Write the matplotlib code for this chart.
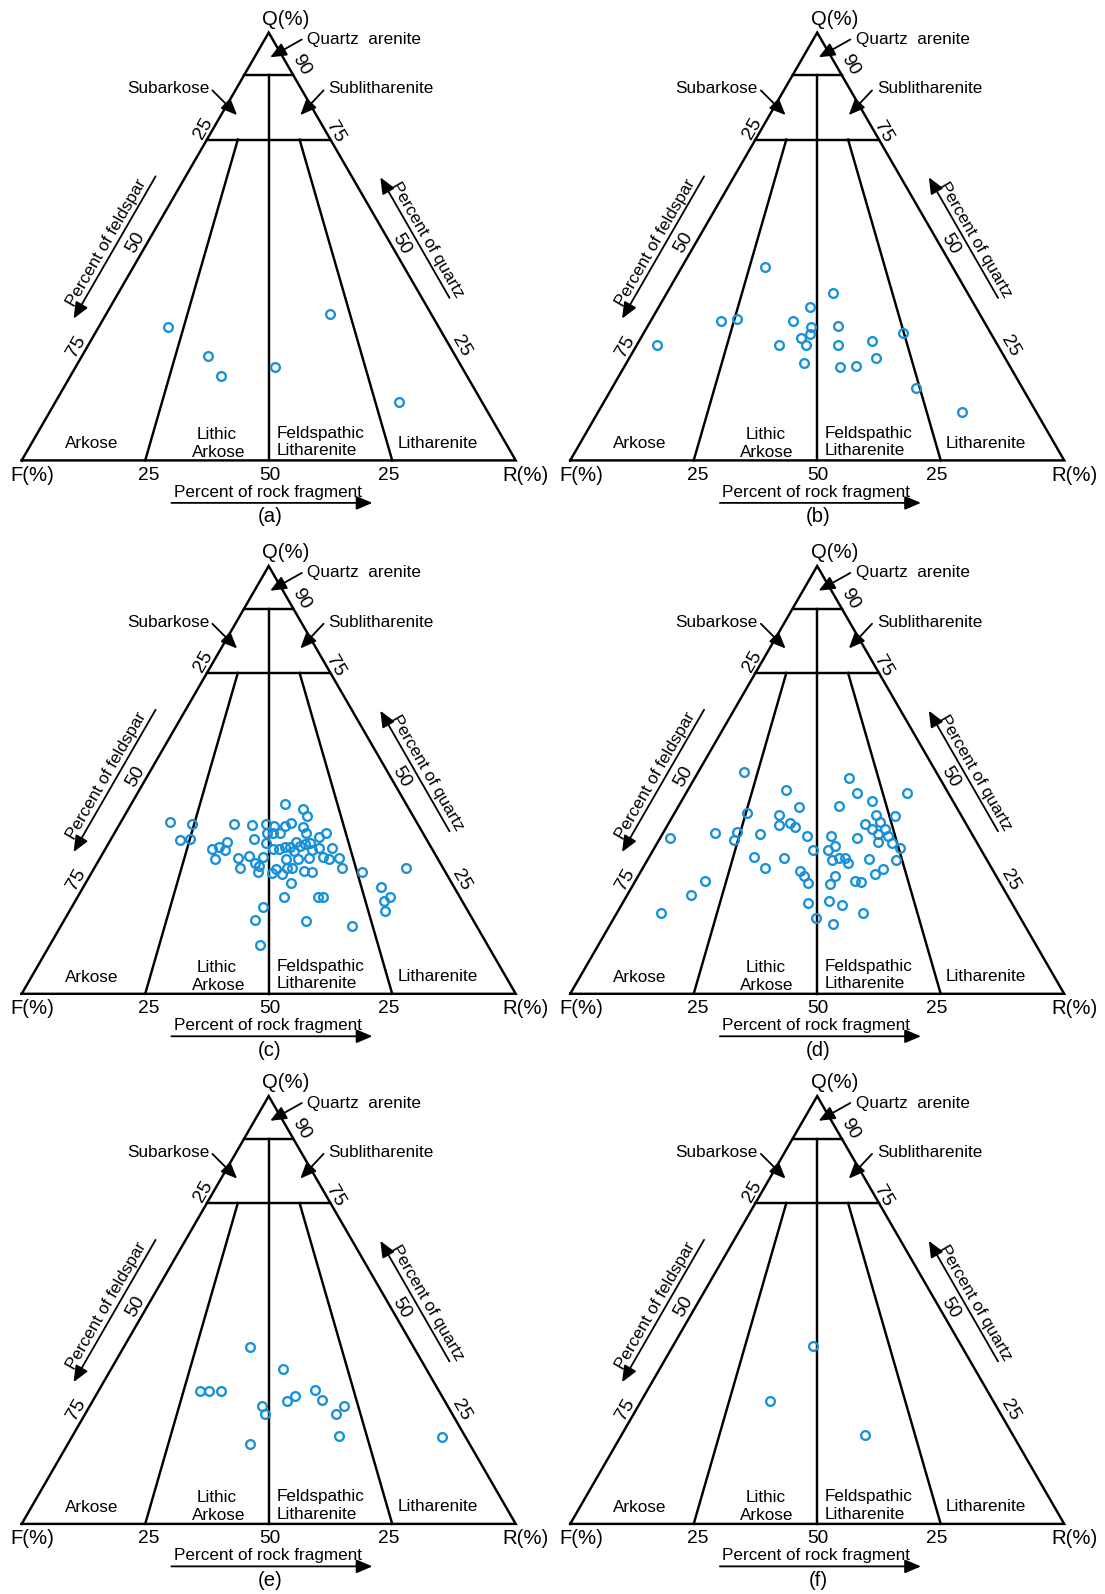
import numpy as np
import matplotlib
matplotlib.use("Agg")
import matplotlib.pyplot as plt

plt.rcParams['font.family'] = ['Liberation Sans', 'DejaVu Sans']

# ---------------------------------------------------------------
# Sandstone compositions (Q = quartz, F = feldspar, R = rock fragment, %)
# ---------------------------------------------------------------
a_Q = [31.1, 24.4, 19.7, 21.9, 34.3, 13.6]
a_F = [54.9, 50.0, 49.8, 37.9, 20.4, 16.9]
a_R = [14.0, 25.6, 30.5, 40.3, 45.4, 69.5]

b_Q = [45.2, 39.1, 35.9, 32.5, 33.1, 32.7, 31.1, 29.4, 28.6, 26.9, 27.0,
       26.9, 31.5, 27.1, 27.8, 29.7, 24.0, 22.8, 21.8, 22.1, 16.8, 11.2]
b_F = [37.9, 27.3, 33.5, 53.3, 49.7, 38.5, 35.8, 36.7, 38.9, 38.8, 44.2,
       69.1, 30.1, 32.2, 25.0, 17.8, 26.2, 41.2, 34.5, 31.0, 21.6, 15.1]
b_R = [16.8, 33.6, 30.6, 14.2, 17.2, 28.8, 33.2, 33.8, 32.5, 34.3, 28.8,
       4.1, 38.4, 40.8, 47.2, 52.6, 49.9, 36.0, 43.7, 46.9, 61.5, 73.7]

c_Q = [44.3, 43.2, 41.5, 40.2, 39.7, 39.7, 39.5, 39.8, 39.3, 39.3, 40.0,
       39.0, 37.5, 37.5, 37.6, 37.5, 36.0, 36.1, 36.2, 36.7, 37.6, 35.4,
       33.9, 34.3, 33.5, 31.4, 35.2, 33.8, 33.9, 34.2, 34.3, 35.4, 33.4,
       34.5, 34.9, 35.2, 33.5, 34.1, 34.1, 31.8, 32.3, 31.9, 30.5, 29.9,
       29.3, 28.4, 31.6, 31.5, 31.7, 31.9, 31.4, 31.7, 29.3, 29.1, 28.3,
       27.9, 29.5, 29.3, 28.6, 28.4, 28.4, 29.3, 26.0, 24.9, 22.7, 21.8,
       19.4, 22.7, 22.6, 22.6, 20.4, 17.2, 17.0, 15.8, 11.4]
c_F = [24.5, 21.4, 21.4, 49.8, 45.6, 37.2, 33.6, 30.6, 29.2, 27.0, 25.4,
       23.6, 23.7, 31.6, 30.4, 28.9, 50.0, 47.9, 34.9, 21.5, 19.5, 40.7,
       44.5, 42.9, 42.0, 45.1, 32.9, 32.3, 31.0, 29.5, 28.5, 26.7, 28.2,
       26.5, 25.3, 24.1, 24.5, 22.8, 20.1, 40.3, 37.8, 35.3, 37.6, 37.1,
       41.2, 38.0, 30.6, 28.3, 26.0, 23.0, 22.0, 19.9, 20.5, 33.9, 35.1,
       33.3, 31.5, 30.6, 28.6, 27.0, 17.0, 7.6, 32.4, 14.9, 14.0, 15.8,
       16.7, 35.6, 28.7, 27.7, 40.9, 44.1, 34.0, 25.3, 46.1]
c_R = [31.2, 35.5, 37.1, 10.0, 14.7, 23.0, 26.9, 29.6, 31.5, 33.7, 34.6,
       37.4, 38.8, 30.9, 32.0, 33.6, 14.0, 16.0, 28.9, 41.8, 42.9, 23.9,
       21.6, 22.8, 24.5, 23.5, 31.9, 33.9, 35.1, 36.3, 37.2, 37.9, 38.4,
       39.0, 39.8, 40.7, 42.0, 43.1, 45.8, 27.9, 29.9, 32.8, 31.9, 33.0,
       29.5, 33.6, 37.8, 40.2, 42.3, 45.1, 46.6, 48.4, 50.2, 37.0, 36.6,
       38.8, 39.0, 40.1, 42.8, 44.6, 54.6, 63.1, 41.6, 60.2, 63.3, 62.4,
       63.9, 41.7, 48.7, 49.7, 38.7, 38.7, 49.0, 58.9, 42.5]

d_Q = [51.8, 50.4, 47.7, 46.9, 46.9, 45.0, 43.7, 44.0, 42.3, 41.8, 41.9,
       41.5, 39.5, 40.0, 39.1, 39.7, 38.5, 40.1, 38.4, 37.4, 36.9, 36.5,
       37.6, 37.8, 36.0, 37.3, 36.8, 36.8, 36.4, 35.3, 34.1, 35.4, 34.6,
       33.7, 33.5, 31.2, 31.8, 31.7, 30.5, 31.6, 31.4, 29.3, 28.1, 31.9,
       29.5, 31.7, 28.6, 27.5, 25.8, 27.6, 25.7, 26.4, 26.1, 26.4, 23.1,
       18.9, 21.2, 21.6, 20.8, 18.8, 17.7, 16.4]
d_F = [38.9, 18.4, 32.5, 18.5, 8.4, 16.4, 31.8, 23.5, 43.1, 36.7, 17.2,
       13.6, 37.9, 35.6, 34.9, 20.4, 19.6, 17.3, 17.0, 19.0, 17.2, 61.6,
       51.8, 47.4, 48.8, 42.9, 33.7, 28.8, 23.8, 17.2, 16.1, 20.0, 29.0,
       31.0, 34.1, 31.5, 29.6, 28.6, 28.6, 23.8, 18.4, 22.0, 24.2, 46.8,
       45.9, 40.8, 39.1, 38.8, 39.0, 32.6, 34.5, 29.1, 28.2, 59.5, 63.9,
       72.2, 41.3, 36.8, 34.5, 31.3, 41.4, 38.6]
d_R = [9.3, 31.3, 19.8, 34.6, 44.7, 38.6, 24.5, 32.5, 14.6, 21.4, 40.9,
       44.9, 22.6, 24.4, 26.0, 39.9, 41.9, 42.5, 44.5, 43.6, 46.0, 2.0,
       10.6, 14.8, 15.2, 19.8, 29.5, 34.4, 39.8, 47.4, 49.7, 44.6, 36.4,
       35.3, 32.3, 37.3, 38.6, 39.8, 40.9, 44.7, 50.3, 48.8, 47.8, 21.3,
       24.6, 27.4, 32.3, 33.6, 35.2, 39.8, 39.8, 44.5, 45.8, 14.1, 13.0,
       8.9, 37.5, 41.7, 44.7, 50.0, 40.9, 44.9]

e_Q = [41.4, 36.2, 31.0, 31.0, 31.0, 30.0, 28.8, 31.2, 28.9, 27.5, 25.7,
       27.6, 25.8, 20.6, 18.6, 20.4]
e_F = [33.0, 29.1, 48.5, 46.5, 44.1, 29.7, 31.9, 25.0, 24.8, 37.6, 37.9,
       21.0, 23.4, 25.5, 44.4, 4.8]
e_R = [25.6, 34.7, 20.5, 22.5, 24.9, 40.4, 39.3, 43.8, 46.3, 34.9, 36.4,
       51.4, 50.8, 53.9, 37.0, 74.8]

f_Q = [41.5, 28.8, 20.7]
f_F = [30.2, 45.1, 30.0]
f_R = [28.3, 26.1, 49.3]

panels = [
    ('(a)', a_Q, a_F, a_R),
    ('(b)', b_Q, b_F, b_R),
    ('(c)', c_Q, c_F, c_R),
    ('(d)', d_Q, d_F, d_R),
    ('(e)', e_Q, e_F, e_R),
    ('(f)', f_Q, f_F, f_R),
]

# Classification boundaries (Folk): quartz limits and F:R ratio lines
Q_LIMITS = [90, 75]
FR_SPLITS = [0.25, 0.5, 0.75]          # R / (F + R)

S3 = np.sqrt(3) / 2
POINT_COLOR = '#1790d8'


def tern_xy(Q, F, R):
    Q, F, R = (np.asarray(v, float) for v in (Q, F, R))
    tot = Q + F + R
    q, r = Q / tot, R / tot
    return r + q / 2, q * S3


def arrow(ax, tail, head, lw=1.3, scale=13):
    ax.annotate('', xy=head, xytext=tail,
                arrowprops=dict(arrowstyle='-|>,head_length=0.75,head_width=0.32',
                                mutation_scale=scale, lw=lw, color='black',
                                shrinkA=0, shrinkB=0))


def draw_template(ax, tag):
    lw = 1.75
    k = 'black'
    # outer triangle
    tx, ty = tern_xy([0, 0, 100, 0], [100, 0, 0, 100], [0, 100, 0, 0])
    ax.plot(tx, ty, color=k, lw=lw, solid_joinstyle='miter', zorder=2)
    # quartz-limit lines
    for qv in Q_LIMITS:
        x, y = tern_xy([qv, qv], [100 - qv, 0], [0, 100 - qv])
        ax.plot(x, y, color=k, lw=lw, zorder=2)
    # F:R ratio lines from the 75 % quartz line (the 1:1 line from 90 %)
    for s in FR_SPLITS:
        qtop = Q_LIMITS[0] if s == 0.5 else Q_LIMITS[1]
        x, y = tern_xy([qtop, 0], [(100 - qtop) * (1 - s), 100 * (1 - s)],
                       [(100 - qtop) * s, 100 * s])
        ax.plot(x, y, color=k, lw=lw, zorder=2)

    fs_main = 13.8
    fs_corner = 14.6
    fs_lab = 12.3
    # apex / corner labels
    ax.text(0.535, 0.893, 'Q(%)', ha='center', va='center', fontsize=fs_corner)
    ax.text(0.022, -0.030, 'F(%)', ha='center', va='center', fontsize=fs_corner)
    ax.text(1.020, -0.030, 'R(%)', ha='center', va='center', fontsize=fs_corner)
    for xv, t in [(0.258, '25'), (0.502, '50'), (0.742, '25')]:
        ax.text(xv, -0.030, t, ha='center', va='center', fontsize=fs_main)

    # field names above the apex
    ax.text(0.578, 0.852, 'Quartz  arenite', ha='left', va='center', fontsize=fs_lab)
    arrow(ax, (0.567, 0.852), (0.503, 0.816))
    ax.text(0.380, 0.752, 'Subarkose', ha='right', va='center', fontsize=fs_lab)
    arrow(ax, (0.386, 0.749), (0.436, 0.699))
    ax.text(0.621, 0.752, 'Sublitharenite', ha='left', va='center', fontsize=fs_lab)
    arrow(ax, (0.611, 0.749), (0.564, 0.699))

    # scale numbers along the sides
    for (xv, yv, t, rot) in [(0.566, 0.800, '90', -60), (0.368, 0.672, '25', 60),
                             (0.634, 0.664, '75', -60), (0.230, 0.440, '50', 60),
                             (0.111, 0.231, '75', 60), (0.769, 0.438, '50', -60),
                             (0.890, 0.231, '25', -60)]:
        ax.text(xv, yv, t, ha='center', va='center', rotation=rot,
                rotation_mode='anchor', fontsize=fs_main)

    # side axis titles with direction arrows
    ax.text(0.172, 0.441, 'Percent of feldspar', ha='center', va='center',
            rotation=60, rotation_mode='anchor', fontsize=fs_lab)
    arrow(ax, (0.271, 0.575), (0.105, 0.287))
    ax.text(0.820, 0.447, 'Percent of quartz', ha='center', va='center',
            rotation=-60, rotation_mode='anchor', fontsize=fs_lab)
    arrow(ax, (0.866, 0.329), (0.726, 0.573))
    ax.text(0.498, -0.064, 'Percent of rock fragment', ha='center', va='center',
            fontsize=fs_lab)
    arrow(ax, (0.303, -0.086), (0.710, -0.086))

    # field names at the base
    ax.text(0.141, 0.034, 'Arkose', ha='center', va='center', fontsize=fs_lab)
    ax.text(0.395, 0.053, 'Lithic', ha='center', va='center', fontsize=fs_lab)
    ax.text(0.398, 0.017, 'Arkose', ha='center', va='center', fontsize=fs_lab)
    ax.text(0.516, 0.055, 'Feldspathic', ha='left', va='center', fontsize=fs_lab)
    ax.text(0.516, 0.020, 'Litharenite', ha='left', va='center', fontsize=fs_lab)
    ax.text(0.842, 0.035, 'Litharenite', ha='center', va='center', fontsize=fs_lab)

    ax.text(0.502, -0.114, tag, ha='center', va='center', fontsize=fs_corner)


W_PX, H_PX = 1105, 1594
DPI = 100
fig = plt.figure(figsize=(W_PX / DPI, H_PX / DPI), dpi=DPI)
fig.patch.set_facecolor('white')

SIDE = 494.0                      # triangle side in pixels
CELL_W, CELL_H = W_PX / 2, H_PX / 3
# pixel position of the F corner of each diagram (x from left, y from top)
corners = [(21.7, 460.4), (570.2, 460.4), (21.7, 993.8),
           (570.2, 993.8), (21.7, 1523.9), (570.2, 1523.9)]

for i, (tag, Q, F, R) in enumerate(panels):
    col, row = i % 2, i // 2
    left, top = col * CELL_W, row * CELL_H
    ax = fig.add_axes([left / W_PX, 1 - (top + CELL_H) / H_PX,
                       CELL_W / W_PX, CELL_H / H_PX])
    fx, by = corners[i]
    ax.set_xlim((left - fx) / SIDE, (left + CELL_W - fx) / SIDE)
    ax.set_ylim((by - (top + CELL_H)) / SIDE, (by - top) / SIDE)
    ax.axis('off')
    draw_template(ax, tag)
    x, y = tern_xy(Q, F, R)
    ax.plot(x, y, linestyle='none', marker='o', ms=6.3, mfc='none',
            mec=POINT_COLOR, mew=1.65, zorder=3)

fig.savefig('out.png', dpi=DPI, facecolor='white')
